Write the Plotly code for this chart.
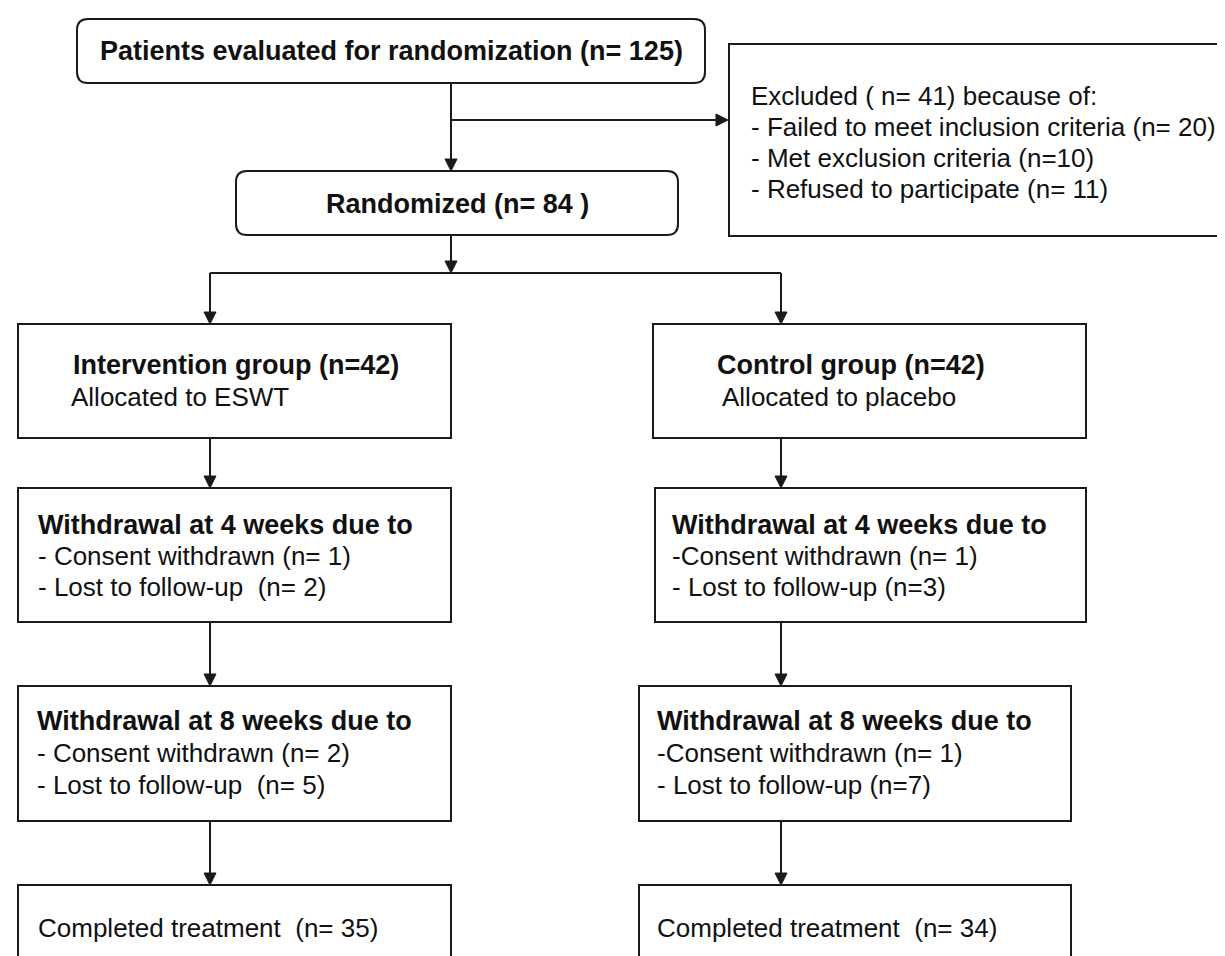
import plotly.graph_objects as go

# ---------------- data (counts) ----------------
n_evaluated = 125
n_excluded = 41
excl_reasons = ["Failed to meet inclusion criteria", "Met exclusion criteria", "Refused to participate"]
excl_counts = [20, 10, 11]
n_randomized = 84
groups = ["Intervention group", "Control group"]
group_n = [42, 42]
allocated = ["Allocated to ESWT", "Allocated to placebo"]
w4_consent = [1, 1]
w4_lost = [2, 3]
w8_consent = [2, 1]
w8_lost = [5, 7]
completed = [35, 34]

# ---------------- texts ----------------
txt_top = f"Patients evaluated for randomization (n= {n_evaluated})"
txt_excl = [f"Excluded ( n= {n_excluded}) because of:",
            f"- {excl_reasons[0]} (n= {excl_counts[0]})",
            f"- {excl_reasons[1]} (n={excl_counts[1]})",
            f"- {excl_reasons[2]} (n= {excl_counts[2]})"]
txt_rand = f"Randomized (n= {n_randomized} )"
txt_group = [[f"{groups[i]} (n={group_n[i]})", allocated[i]] for i in range(2)]
txt_w4 = [["Withdrawal at 4 weeks due to", f"- Consent withdrawn (n= {w4_consent[0]})", f"- Lost to follow-up  (n= {w4_lost[0]})"],
          ["Withdrawal at 4 weeks due to", f"-Consent withdrawn (n= {w4_consent[1]})", f"- Lost to follow-up (n={w4_lost[1]})"]]
txt_w8 = [["Withdrawal at 8 weeks due to", f"- Consent withdrawn (n= {w8_consent[0]})", f"- Lost to follow-up  (n= {w8_lost[0]})"],
          ["Withdrawal at 8 weeks due to", f"-Consent withdrawn (n= {w8_consent[1]})", f"- Lost to follow-up (n={w8_lost[1]})"]]
txt_comp = [f"Completed treatment  (n= {completed[0]})", f"Completed treatment  (n= {completed[1]})"]

# ---------------- layout geometry (pixels) ----------------
W, H = 1225, 956
LINE = "#1a1a1a"
TXT = "#111111"
FONT = "Liberation Sans, Arial, sans-serif"
FS_B = 27
FS_R = 26

fig = go.Figure()
shapes = []
annots = []


def rect(x0, x1, y0, y1, r=0):
    if r == 0:
        shapes.append(dict(type="rect", xref="x", yref="y", x0=x0, x1=x1, y0=y0, y1=y1,
                           line=dict(color=LINE, width=2), fillcolor="white", layer="below"))
    else:
        p = (f"M{x0+r},{y0} L{x1-r},{y0} Q{x1},{y0} {x1},{y0+r} L{x1},{y1-r} Q{x1},{y1} {x1-r},{y1} "
             f"L{x0+r},{y1} Q{x0},{y1} {x0},{y1-r} L{x0},{y0+r} Q{x0},{y0} {x0+r},{y0} Z")
        shapes.append(dict(type="path", xref="x", yref="y", path=p,
                           line=dict(color=LINE, width=2), fillcolor="white", layer="below"))


def line(x0, y0, x1, y1, arrow=False):
    AL, AW = 12, 6
    ex, ey = x1, y1
    if arrow:
        if x0 == x1:
            ey = y1 - AL if y1 > y0 else y1 + AL
        else:
            ex = x1 - AL if x1 > x0 else x1 + AL
    shapes.append(dict(type="line", xref="x", yref="y", x0=x0, y0=y0, x1=ex, y1=ey,
                       line=dict(color=LINE, width=2)))
    if arrow:
        if x0 == x1:
            p = f"M{x1-AW},{ey} L{x1+AW},{ey} L{x1},{y1} Z"
        else:
            p = f"M{ex},{y1-AW} L{ex},{y1+AW} L{x1},{y1} Z"
        shapes.append(dict(type="path", xref="x", yref="y", path=p,
                           line=dict(color=LINE, width=1), fillcolor=LINE))


def text(x, y, s, bold=False, anchor="left"):
    annots.append(dict(x=x, y=y, xref="x", yref="y", text=f"<b>{s}</b>" if bold else s,
                       showarrow=False, xanchor=anchor, yanchor="middle",
                       font=dict(family=FONT, size=FS_B if bold else FS_R, color=TXT)))


# boxes
rect(69, 697, 11, 75, r=11)
rect(721, 1240, 36, 228)
rect(228, 670, 163, 227, r=11)
col_box = [(10, 443), (645, 1078)]
w4_box = [(10, 443), (647, 1078)]
w8_box = [(10, 443), (631, 1063)]
comp_box = [(10, 443), (631, 1063)]
for i in range(2):
    rect(col_box[i][0], col_box[i][1], 316, 430)
    rect(w4_box[i][0], w4_box[i][1], 480, 614)
    rect(w8_box[i][0], w8_box[i][1], 678, 813)
    rect(comp_box[i][0], comp_box[i][1], 877, 975)

# connectors
line(443, 75, 443, 163, arrow=True)
line(443, 112, 720, 112, arrow=True)
line(443, 227, 443, 265, arrow=True)
line(202, 265, 773, 265)
col_x = [202, 773]
for i in range(2):
    line(col_x[i], 265, col_x[i], 316, arrow=True)
    line(col_x[i], 430, col_x[i], 480, arrow=True)
    line(col_x[i], 614, col_x[i], 678, arrow=True)
    line(col_x[i], 813, col_x[i], 877, arrow=True)

# texts
text(383, 43, txt_top, bold=True, anchor="center")
for s, y in zip(txt_excl, [88, 119, 150, 181]):
    text(741, y, s)
text(449, 196, txt_rand, bold=True, anchor="center")

grp_x = [(63, 61), (707, 712)]
w4_x = [28, 662]
w8_x = [27, 647]
comp_x = [28, 647]
for i in range(2):
    text(grp_x[i][0], 357, txt_group[i][0], bold=True)
    text(grp_x[i][1], 389, txt_group[i][1])
    for j, y in enumerate([517, 548, 579]):
        text(w4_x[i], y, txt_w4[i][j], bold=(j == 0))
    for j, y in enumerate([713, 745, 777]):
        text(w8_x[i], y, txt_w8[i][j], bold=(j == 0))
    text(comp_x[i], 920, txt_comp[i])

fig.update_layout(
    width=W, height=H,
    margin=dict(l=0, r=0, t=0, b=0),
    paper_bgcolor="white", plot_bgcolor="white",
    xaxis=dict(range=[0, W], visible=False, fixedrange=True),
    yaxis=dict(range=[H, 0], visible=False, fixedrange=True),
    shapes=shapes, annotations=annots, showlegend=False,
)

fig.write_html("out.html", config={"displayModeBar": False})
